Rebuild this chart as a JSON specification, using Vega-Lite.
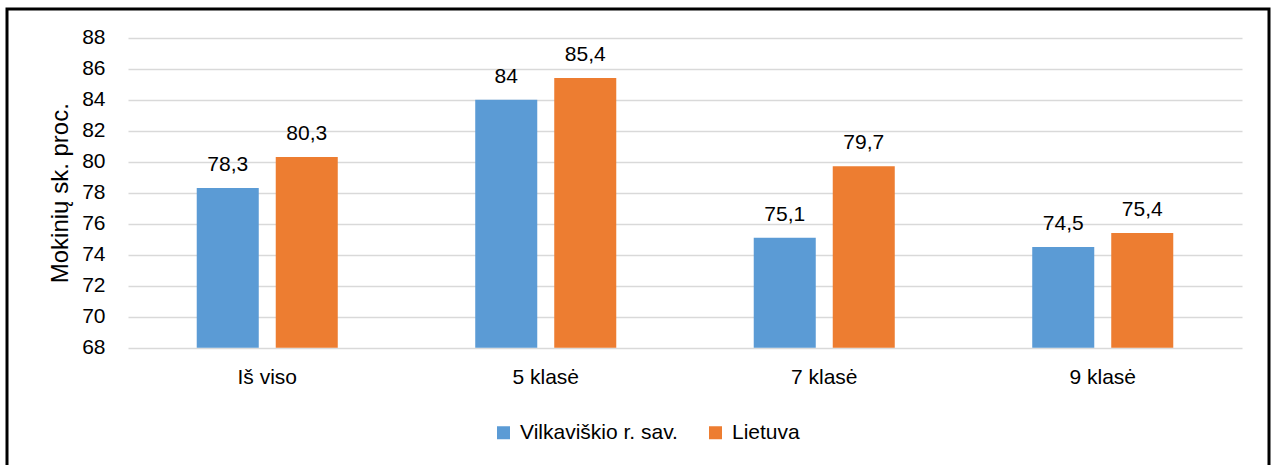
{
  "$schema": "https://vega.github.io/schema/vega-lite/v6.json",
  "autosize": {"type": "none"},
  "width": 1262,
  "height": 460,
  "padding": {"left": 7, "top": 9, "right": 6, "bottom": -4},
  "background": "white",
  "config": {
    "font": "Liberation Sans",
    "view": {"stroke": "black", "strokeWidth": 3},
    "locale": {"number": {"decimal": ",", "thousands": " ", "grouping": [3], "currency": ["", " €"]}}
  },
  "data": {
    "values": [
      {"kategorija": "Iš viso", "serija": "Vilkaviškio r. sav.", "reiksme": 78.3},
      {"kategorija": "Iš viso", "serija": "Lietuva", "reiksme": 80.3},
      {"kategorija": "5 klasė", "serija": "Vilkaviškio r. sav.", "reiksme": 84},
      {"kategorija": "5 klasė", "serija": "Lietuva", "reiksme": 85.4},
      {"kategorija": "7 klasė", "serija": "Vilkaviškio r. sav.", "reiksme": 75.1},
      {"kategorija": "7 klasė", "serija": "Lietuva", "reiksme": 79.7},
      {"kategorija": "9 klasė", "serija": "Vilkaviškio r. sav.", "reiksme": 74.5},
      {"kategorija": "9 klasė", "serija": "Lietuva", "reiksme": 75.4}
    ]
  },
  "encoding": {
    "x": {
      "field": "kategorija",
      "type": "nominal",
      "sort": ["Iš viso", "5 klasė", "7 klasė", "9 klasė"],
      "scale": {"range": [121, 1235], "paddingInner": 0, "paddingOuter": 0},
      "axis": {
        "title": null,
        "labelAngle": 0,
        "labelFontSize": 21,
        "labelColor": "#000000",
        "labelPadding": 19,
        "ticks": false,
        "domain": false,
        "grid": false,
        "offset": -121.3
      }
    },
    "xOffset": {
      "field": "serija",
      "type": "nominal",
      "sort": ["Vilkaviškio r. sav.", "Lietuva"],
      "scale": {"paddingInner": 0.215, "paddingOuter": 0.87}
    },
    "y": {
      "field": "reiksme",
      "type": "quantitative",
      "scale": {"domain": [68, 88], "zero": false, "nice": false, "range": [338.7, 28.7]},
      "axis": {
        "title": "Mokinių sk. proc.",
        "titleFontSize": 24,
        "titleFontWeight": "normal",
        "titleColor": "#000000",
        "titleX": -68,
        "titleBaseline": "middle",
        "values": [68, 70, 72, 74, 76, 78, 80, 82, 84, 86, 88],
        "labelFontSize": 21,
        "labelColor": "#000000",
        "labelPadding": 23,
        "ticks": false,
        "domain": false,
        "grid": true,
        "gridColor": "#d9d9d9",
        "gridWidth": 1.5,
        "offset": -121
      }
    }
  },
  "layer": [
    {
      "mark": {"type": "bar"},
      "encoding": {
        "y2": {"datum": 68},
        "color": {
          "field": "serija",
          "type": "nominal",
          "sort": ["Vilkaviškio r. sav.", "Lietuva"],
          "scale": {"domain": ["Vilkaviškio r. sav.", "Lietuva"], "range": ["#5b9bd5", "#ed7d31"]},
          "legend": {
            "title": null,
            "orient": "none",
            "direction": "horizontal",
            "legendX": 486,
            "legendY": 413,
            "symbolType": "square",
            "symbolSize": 169,
            "symbolStrokeWidth": 0,
            "labelFontSize": 21,
            "labelColor": "#000000",
            "labelOffset": 6,
            "columnPadding": 27
          }
        }
      }
    },
    {
      "mark": {"type": "text", "baseline": "alphabetic", "dy": -17, "fontSize": 21, "color": "#000000"},
      "encoding": {
        "text": {"field": "reiksme", "type": "quantitative", "format": ".1~f"}
      }
    }
  ]
}
